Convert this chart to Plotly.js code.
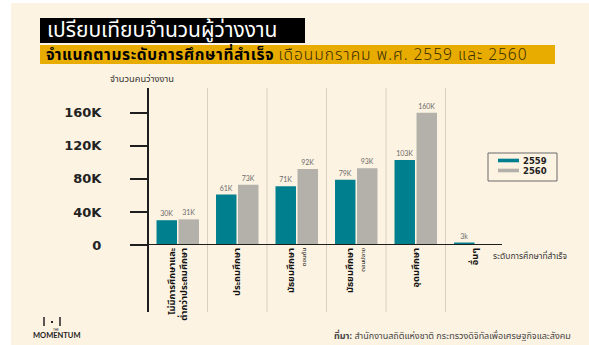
<!DOCTYPE html>
<html>
<head>
<meta charset="utf-8">
<script src="https://cdn.plot.ly/plotly-3.0.1.min.js"></script>
<style>html,body{margin:0;padding:0;background:#fff;}#chart{width:589px;height:345px;}</style>
</head>
<body>
<div id="chart"></div>
<script>
// ---- data ----
const categories = ["ไม่มีการศึกษาและต่ำกว่าประถมศึกษา", "ประถมศึกษา", "มัธยมศึกษาตอนต้น", "มัธยมศึกษาตอนปลาย", "อุดมศึกษา", "อื่นๆ"];
const categoryLabels = [
  "ไม่มีการศึกษาและ<br>ต่ำกว่าประถมศึกษา",
  "ประถมศึกษา",
  "มัธยมศึกษา<br><span style='font-size:6px;font-weight:normal'>ตอนต้น</span>",
  "มัธยมศึกษา<br><span style='font-size:6px;font-weight:normal'>ตอนปลาย</span>",
  "อุดมศึกษา",
  "อื่นๆ"
];
const seriesNames = ["2559", "2560"];
const values2559 = [30000, 61000, 71000, 79000, 103000, 3000];
const values2560 = [31000, 73000, 92000, 93000, 160000, null];
const labels2559 = ["30K", "61K", "71K", "79K", "103K", "3k"];
const labels2560 = ["31K", "73K", "92K", "93K", "160K", ""];
const yTickVals = [0, 40000, 80000, 120000, 160000];
const yTickText = ["0", "40K", "80K", "120K", "160K"];

// ---- layout helpers (pixel -> paper) ----
const W = 589, H = 345;
const L = 148, R = 505, T = 88, B = 245;
const px = x => (x - L) / (R - L);
const py = y => (B - y) / (B - T);

const TEAL = "#00808f", GREY = "#b4b0aa", CREAM = "#fdf3e2", INK = "#1e1e1e";
const THAI = "Noto Sans Thai, Noto Sans, sans-serif";
const NUM = "DejaVu Sans, sans-serif";

const barCommon = {type: "bar", textposition: "outside", cliponaxis: false,
  textfont: {size: 7, color: "#6b6b6b", family: "Lato, sans-serif"}, showlegend: false, hoverinfo: "skip"};

const seriesColors = [TEAL, GREY];
const traces = [
  Object.assign({}, barCommon, {name: seriesNames[0], x: categories, y: values2559, text: labels2559, marker: {color: seriesColors[0]}}),
  Object.assign({}, barCommon, {name: seriesNames[1], x: categories, y: values2560, text: labels2560, marker: {color: seriesColors[1]}})
];

const shapes = [
  // cream page
  {type: "rect", xref: "paper", yref: "paper", x0: px(11), x1: px(600), y0: py(350), y1: py(3), fillcolor: CREAM, line: {width: 0}, layer: "below"},
  // title boxes
  {type: "rect", xref: "paper", yref: "paper", x0: px(40), x1: px(305), y0: py(43), y1: py(18), fillcolor: "#000", line: {width: 0}, layer: "below"},
  {type: "rect", xref: "paper", yref: "paper", x0: px(40), x1: px(555), y0: py(64), y1: py(45), fillcolor: "#e8ac00", line: {width: 0}, layer: "below"},
];
// category separators
for (let i = 0; i < categories.length - 1; i++) {
  shapes.push({type: "line", xref: "x", yref: "paper", x0: i + 0.5, x1: i + 0.5, y0: py(312), y1: 1, line: {color: "#d9d1c4", width: 1}, layer: "below"});
}
// y axis line (extends below)
shapes.push({type: "line", xref: "paper", yref: "paper", x0: 0, x1: 0, y0: py(312), y1: 1, line: {color: INK, width: 2}});
// x axis line
shapes.push({type: "line", xref: "paper", yref: "y", x0: px(131), x1: px(502), y0: 0, y1: 0, line: {color: INK, width: 2}});
// logo bars
shapes.push({type: "line", xref: "paper", yref: "paper", x0: px(44), x1: px(44), y0: py(326), y1: py(317), line: {color: "#222", width: 1.5}});
shapes.push({type: "line", xref: "paper", yref: "paper", x0: px(60), x1: px(60), y0: py(326), y1: py(317), line: {color: "#222", width: 1.5}});
shapes.push({type: "rect", xref: "paper", yref: "paper", x0: px(51), x1: px(53), y0: py(323), y1: py(321), fillcolor: "#222", line: {width: 0}});

// legend (drawn manually for wide thin swatches)
shapes.push({type: "rect", xref: "paper", yref: "paper", x0: px(488), x1: px(557), y0: py(181), y1: py(153), fillcolor: CREAM, line: {color: "#6a6a6a", width: 1}});
const legendY = [160.5, 170.5];
const annotations = [];
seriesNames.forEach((n, i) => {
  shapes.push({type: "rect", xref: "paper", yref: "paper", x0: px(498), x1: px(519), y0: py(legendY[i] + 1.8), y1: py(legendY[i] - 1.8), fillcolor: seriesColors[i], line: {width: 0}});
  annotations.push({xref: "paper", yref: "paper", x: px(521), y: py(legendY[i] + 0.5), xanchor: "left", yanchor: "middle", showarrow: false,
    text: "<b>" + n + "</b>", font: {family: NUM, size: 8.5, color: "#222"}});
});

annotations.push(
  {xref: "paper", yref: "paper", x: px(45), y: py(30.5), xanchor: "left", yanchor: "middle", showarrow: false,
   text: "เปรียบเทียบจำนวนผู้ว่างงาน", font: {family: THAI, size: 21, color: "#fff"}},
  {xref: "paper", yref: "paper", x: px(44), y: py(55), xanchor: "left", yanchor: "middle", showarrow: false,
   text: "<b><span style='letter-spacing:0.6px'>จำแนกตามระดับการศึกษาที่สำเร็จ</span></b> <span style='color:#3a2e00;font-weight:300;letter-spacing:1px'>เดือนมกราคม พ.ศ. 2559 และ 2560</span>", font: {family: THAI, size: 15.5, color: "#000"}},
  {xref: "paper", yref: "paper", x: px(108), y: py(79), xanchor: "left", yanchor: "middle", showarrow: false,
   text: "จำนวนคนว่างงาน", font: {family: THAI, size: 9.3, color: "#333"}},
  {xref: "paper", yref: "paper", x: px(491), y: py(256), xanchor: "left", yanchor: "middle", showarrow: false,
   text: "ระดับการศึกษาที่สำเร็จ", font: {family: THAI, size: 8.5, color: "#333"}},
  {xref: "paper", yref: "paper", x: px(573), y: py(336), xanchor: "right", yanchor: "middle", showarrow: false,
   text: "<b>ที่มา:</b> สำนักงานสถิติแห่งชาติ กระทรวงดิจิทัลเพื่อเศรษฐกิจและสังคม", font: {family: THAI, size: 9, color: "#444"}},
  {xref: "paper", yref: "paper", x: px(56), y: py(335), xanchor: "center", yanchor: "middle", showarrow: false,
   text: "<b>MOMENTUM</b>", font: {family: "Lato, sans-serif", size: 7.5, color: "#222"}},
  {xref: "paper", yref: "paper", x: px(56), y: py(330), xanchor: "center", yanchor: "middle", showarrow: false,
   text: "THE", font: {family: "Lato, sans-serif", size: 3, color: "#222"}}
);

const layout = {
  width: W, height: H,
  margin: {l: L, r: W - R, t: T, b: H - B, pad: 0},
  paper_bgcolor: "#ffffff", plot_bgcolor: "rgba(0,0,0,0)",
  barmode: "group", bargap: 0.26, bargroupgap: 0.07,
  showlegend: false,
  xaxis: {type: "category", range: [-0.5, 5.5], tickvals: categories, ticktext: categoryLabels, tickangle: -90,
          showgrid: false, zeroline: false, showline: false, ticks: "",
          tickfont: {family: THAI, size: 9.3, color: "#111", weight: "bold"}},
  yaxis: {range: [0, 190000], tickvals: yTickVals, ticktext: yTickText, showgrid: false, zeroline: false, showline: false,
          ticks: "outside", ticklen: 17, tickwidth: 2, tickcolor: INK, ticklabelstandoff: 26,
          tickfont: {family: NUM, size: 13, color: "#222", weight: "bold"}},
  shapes: shapes, annotations: annotations
};

Plotly.newPlot("chart", traces, layout, {displayModeBar: false, staticPlot: true});
</script>
</body>
</html>
